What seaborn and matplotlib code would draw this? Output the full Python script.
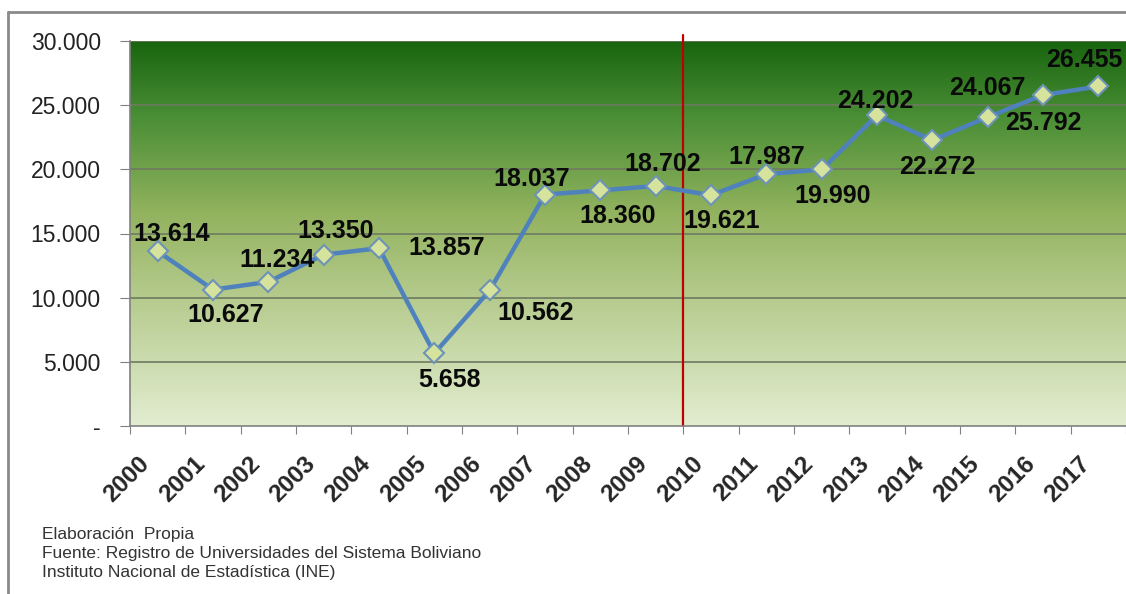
import numpy as np
import matplotlib
matplotlib.use("Agg")
import matplotlib.pyplot as plt
import seaborn as sns
import pandas as pd
from matplotlib.colors import LinearSegmentedColormap

# datos: estudiantes por año
years = ["2000", "2001", "2002", "2003", "2004", "2005", "2006", "2007", "2008",
         "2009", "2010", "2011", "2012", "2013", "2014", "2015", "2016", "2017"]
values = [13614, 10627, 11234, 13350, 13857, 5658, 10562, 18037, 18360,
          18702, 17987, 19621, 19990, 24202, 22272, 24067, 25792, 26455]
# etiquetas tal como aparecen en el grafico original
labels = ["13.614", "10.627", "11.234", "13.350", "13.857", "5.658", "10.562", "18.037", "18.360",
          "18.702", "19.621", "17.987", "19.990", "24.202", "22.272", "24.067", "25.792", "26.455"]
yticks = [0, 5000, 10000, 15000, 20000, 25000, 30000]
ytick_labels = ["-", "5.000", "10.000", "15.000", "20.000", "25.000", "30.000"]
notes = ["Elaboración  Propia",
         "Fuente: Registro de Universidades del Sistema Boliviano",
         "Instituto Nacional de Estadística (INE)"]

# offsets of the data labels (pixels)
offsets = [(14, 17), (13, -25), (9, 22), (12, 24), (68, 0), (15, -27), (46, -23), (-13, 16), (17, -26),
           (7, 22), (11, -26), (0, 17), (11, -27), (-2, 14), (5, -27), (0, 29), (0, -28), (-14, 26)]

df = pd.DataFrame({"year": years, "value": values})

sns.set_style("white")
plt.rcParams["font.family"] = ["Liberation Sans", "DejaVu Sans"]

fig = plt.figure(figsize=(11.26, 5.94), dpi=100)
ax = fig.add_axes([130 / 1126, 1 - 426 / 594, 996 / 1126, 385 / 594])

# fondo degradado verde
cmap = LinearSegmentedColormap.from_list(
    "verde", [(0.0, "#e2edd0"), (0.35, "#b3c98a"), (0.55, "#93b35f"),
              (0.8, "#4b8f36"), (1.0, "#19650f")])
grad = np.linspace(0, 1, 256).reshape(-1, 1)
ax.imshow(grad, extent=[0, 1, 0, 1], transform=ax.transAxes, origin="lower",
          cmap=cmap, aspect="auto", zorder=0)

ax.set_xlim(-0.5, len(years) - 0.5)
ax.set_ylim(0, 30000)
for y in yticks[1:]:
    ax.axhline(y, color="#6e7a60", lw=1.2, zorder=1)

sns.lineplot(data=df, x="year", y="value", ax=ax, color="#4f81bd", lw=3.2,
             marker="D", markersize=10, markerfacecolor="#d6e39c",
             markeredgecolor="#6d93b8", markeredgewidth=1.5, zorder=3, sort=False)

ax.axvline(9.5, ymin=0, ymax=1.015, color="#c00000", lw=1.6, zorder=2, clip_on=False)

for i, (lab, (dx, dy)) in enumerate(zip(labels, offsets)):
    ax.annotate(lab, (i, values[i]), xytext=(dx * 0.72, dy * 0.72), textcoords="offset points",
                ha="center", va="center", fontsize=18, fontweight="bold", color="#0a0a0a",
                zorder=4, annotation_clip=False)

ax.set_yticks(yticks)
ax.set_yticklabels(ytick_labels, fontsize=16.5, color="#222222")
# marcas en los limites de cada categoria, etiquetas un poco a la izquierda del centro
ax.set_xticks(np.arange(-0.5, len(years), 1), minor=False)
ax.set_xticklabels([])
ax.set_xticks(np.arange(len(years)) - 0.36, minor=True)
ax.set_xticklabels(years, minor=True, rotation=45, ha="right", rotation_mode="anchor",
                   fontsize=17.5, fontweight="bold")
ax.tick_params(axis="x", which="major", length=6, color="#808080", direction="out", bottom=True)
ax.tick_params(axis="x", which="minor", length=0, pad=19)
ax.tick_params(axis="y", length=7, color="#808080", direction="out", left=True, pad=14)
ax.set_xlabel("")
ax.set_ylabel("")
for s in ["top", "right"]:
    ax.spines[s].set_visible(False)
ax.spines["left"].set_color("#808080")
ax.spines["bottom"].set_color("#808080")
ax.spines["left"].set_linewidth(1.2)
ax.spines["bottom"].set_linewidth(1.2)

# marco del grafico
fig.add_artist(plt.Line2D([8 / 1126, 1], [1 - 12 / 594, 1 - 12 / 594], color="#8a8a8a", lw=2))
fig.add_artist(plt.Line2D([8 / 1126, 8 / 1126], [0, 1 - 12 / 594], color="#8a8a8a", lw=2))

for k, t in enumerate(notes):
    fig.text(42 / 1126, 1 - (535 + k * 18.5) / 594, t, fontsize=12.5, color="#333333",
             va="center", ha="left")

fig.savefig("out.png", dpi=100)
